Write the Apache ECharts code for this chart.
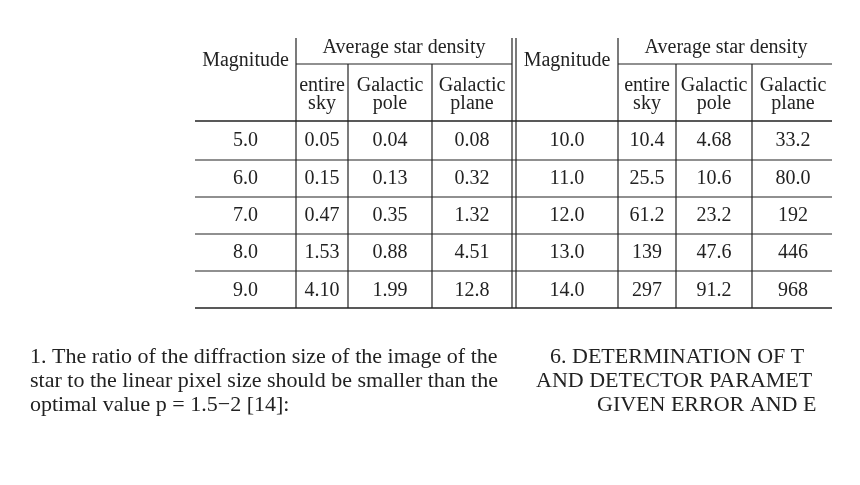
<!DOCTYPE html>
<html>
<head>
<meta charset="utf-8">
<script src="https://cdn.jsdelivr.net/npm/echarts@6/dist/echarts.min.js"></script>
<style>html,body{margin:0;background:#fff}#main{width:860px;height:485px}</style>
</head>
<body>
<div id="main"></div>
<script>
// table data
var magLeft = ['5.0', '6.0', '7.0', '8.0', '9.0'];
var skyLeft = ['0.05', '0.15', '0.47', '1.53', '4.10'];
var poleLeft = ['0.04', '0.13', '0.35', '0.88', '1.99'];
var planeLeft = ['0.08', '0.32', '1.32', '4.51', '12.8'];
var magRight = ['10.0', '11.0', '12.0', '13.0', '14.0'];
var skyRight = ['10.4', '25.5', '61.2', '139', '297'];
var poleRight = ['4.68', '10.6', '23.2', '47.6', '91.2'];
var planeRight = ['33.2', '80.0', '192', '446', '968'];
var paraLeft = [
    '1. The ratio of the diffraction size of the image of the',
    'star to the linear pixel size should be smaller than the',
    'optimal value p = 1.5\u22122 [14]:'
];
var paraRight = ['6. DETERMINATION OF T', 'AND DETECTOR PARAMET', 'GIVEN ERROR AND E'];

var FONT = '"Liberation Serif", "DejaVu Serif", serif';
var INK = '#222';
var rowY = [141, 179, 216, 253, 291];
var rowLines = [160, 197, 234, 271];

var els = [];
function txt(x, y, s, align, size) {
    els.push({type: 'text', x: x, y: y, style: {
        text: s, fill: INK, font: (size || 20) + 'px ' + FONT,
        textAlign: align || 'center', textVerticalAlign: 'middle'}});
}
function line(x1, y1, x2, y2, w) {
    els.push({type: 'line', shape: {x1: x1, y1: y1, x2: x2, y2: y2},
        style: {stroke: INK, lineWidth: w || 1.2}});
}

// one half of the table; cols = vertical line x positions
function half(cols, mag, sky, pole, plane) {
    var x0 = cols[0], x1 = cols[1], x2 = cols[2], x3 = cols[3], x4 = cols[4];
    txt((x0 + x1) / 2, 61, 'Magnitude');
    txt((x1 + x4) / 2, 48, 'Average star density');
    txt((x1 + x2) / 2, 86, 'entire'); txt((x1 + x2) / 2, 104, 'sky');
    txt((x2 + x3) / 2, 86, 'Galactic'); txt((x2 + x3) / 2, 104, 'pole');
    txt((x3 + x4) / 2, 86, 'Galactic'); txt((x3 + x4) / 2, 104, 'plane');
    line(x1, 64, x4, 64);
    line(x1, 38, x1, 308);
    line(x2, 64, x2, 308);
    line(x3, 64, x3, 308);
    var cols4 = [mag, sky, pole, plane];
    for (var c = 0; c < 4; c++) {
        for (var r = 0; r < mag.length; r++) {
            txt((cols[c] + cols[c + 1]) / 2, rowY[r], cols4[c][r]);
        }
    }
}
half([195, 296, 348, 432, 512], magLeft, skyLeft, poleLeft, planeLeft);
half([516, 618, 676, 752, 834], magRight, skyRight, poleRight, planeRight);
// double rule between halves
line(512, 38, 512, 308); line(516, 38, 516, 308);
// horizontal rules
line(195, 121, 860, 121, 1.6);
line(195, 308, 860, 308, 1.6);
rowLines.forEach(function (y) { line(195, y, 860, y); });

paraLeft.forEach(function (s, i) { txt(30, 357 + i * 24, s, 'left', 22); });
txt(550, 357, paraRight[0], 'left', 22);
txt(536, 381, paraRight[1], 'left', 22);
txt(597, 405, paraRight[2], 'left', 22);
// cropped right edge of the scan
els.push({type: 'rect', shape: {x: 832, y: 0, width: 28, height: 485}, style: {fill: '#fff'}, z: 10});

var chart = echarts.init(document.getElementById('main'));
chart.setOption({backgroundColor: '#fff', graphic: {elements: els}});
</script>
</body>
</html>
